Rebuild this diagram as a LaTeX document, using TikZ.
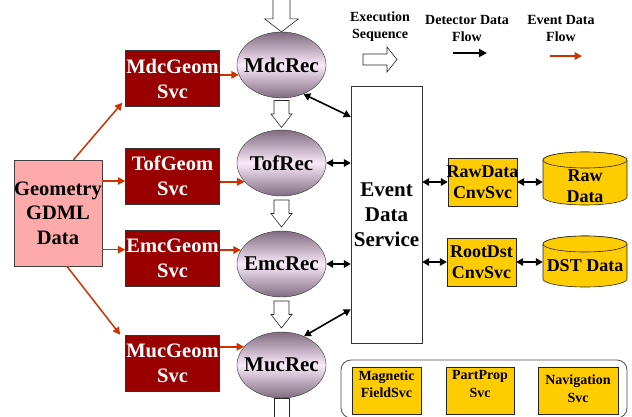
\documentclass[tikz,border=0pt]{standalone}
\usepackage{fontspec}
\setmainfont{Liberation Serif}
\usetikzlibrary{shapes.geometric,arrows.meta,calc}
\definecolor{geored}{RGB}{153,0,0}
\definecolor{pinkbox}{RGB}{255,170,170}
\definecolor{yel}{RGB}{255,204,0}
\definecolor{redarr}{RGB}{204,51,0}
\definecolor{elldark}{RGB}{128,108,128}
\definecolor{elllight}{RGB}{250,234,250}
\newcommand\mkzero[1]{\makebox[0pt]{#1}}
\begin{document}
\begin{tikzpicture}[x=1pt,y=-1pt,
  big/.style={font=\fontsize{21}{25}\selectfont\bfseries},
  mid/.style={font=\fontsize{18}{21.5}\selectfont\bfseries},
  small/.style={font=\fontsize{14}{17.5}\selectfont\bfseries},
  geobox/.style={font=\fontsize{20.5}{24.5}\selectfont\bfseries,draw=black!75,fill=pinkbox,align=center,minimum width=88,minimum height=106,inner sep=0},
  geom/.style={draw=black!80,fill=geored,text=white,font=\fontsize{20.5}{25}\selectfont\bfseries,align=center,minimum width=94,minimum height=56,inner sep=0},
  rec/.style={big,ellipse,draw=black!80,top color=elldark,bottom color=elldark,middle color=elllight,minimum width=89,minimum height=66,inner sep=0},
  edsbox/.style={big,draw=black!80,fill=white,align=center,minimum width=71,minimum height=257,inner sep=0},
  cnv/.style={mid,draw=black!85,fill=yel,align=center,minimum width=69,minimum height=48,inner sep=0},
  dat/.style={mid,align=center,minimum width=84,inner sep=0},
  ybox/.style={draw=black!85,fill=yel,minimum height=47,inner sep=0},
  ytxt/.style={small,align=center,inner sep=0},
  legtxt/.style={small,align=center,inner sep=0},
  cylst/.style={draw=black!85,fill=yel,line width=0.6},
  redarrow/.style={draw=redarr,line width=1.5,-{Triangle[length=7.5,width=7.5]}},
  dbl/.style={draw=black,line width=1.6,{Triangle[length=7,width=7.5]}-{Triangle[length=7,width=7.5]}},
  blkline/.style={draw=black!85,fill=white,line width=0.6,line join=miter},
  vblk/.pic={\draw[blkline] (-7.5,-13.5) -- (7.5,-13.5) -- (7.5,0) -- (10.5,0) -- (0,13.5) -- (-10.5,0) -- (-7.5,0) -- cycle;},
  topblk/.pic={\draw[blkline] (-8.5,-40) -- (8.5,-40) -- (8.5,-13) -- (17,-13) -- (0,0) -- (-17,-13) -- (-8.5,-13) -- cycle;}
]
\useasboundingbox (0,0) rectangle (632,416);
\clip (0,0) rectangle (632,416);

% legend
\node[legtxt] (lexec) at (380,26.5) {Execution\\Sequence};
\node[legtxt] (ldet) at (467,28.5) {Detector Data\\Flow};
\node[legtxt] (levt) at (561,28.5) {Event Data\\Flow};
\draw[blkline] (363,54) -- (387,54) -- (387,47) -- (397,59.5) -- (387,72) -- (387,65) -- (363,65) -- cycle;
\coordinate (ld1) at (453,53);
\coordinate (ld2) at (487,53);
\coordinate (le1) at (550,56);
\coordinate (le2) at (582,56);
\draw[draw=black,line width=1.8,-{Triangle[length=8,width=8]}] (ld1) -- (ld2);
\draw[redarrow,line width=1.8] (le1) -- (le2);

% geometry
\node[geobox] (geo) at (58,213) {Geometry\\GDML\\Data};
\node[geom] (mdcg) at (172.5,78.5) {MdcGeom\\Svc};
\node[geom] (tofg) at (172.5,176) {TofGeom\\Svc};
\node[geom] (emcg) at (172.5,258) {EmcGeom\\Svc};
\node[geom] (mucg) at (172.5,363) {MucGeom\\Svc};

% reconstruction
\node[rec] (mdcr) at (281.5,65) {\mkzero{MdcRec}};
\node[rec] (tofr) at (281.5,163) {\mkzero{TofRec}};
\node[rec] (emcr) at (281.5,264) {\mkzero{EmcRec}};
\node[rec] (mucr) at (281.5,365) {\mkzero{MucRec}};

\pic at (mdcr.north) {topblk};
\pic at ($(mdcr.south)!0.5!(tofr.north)$) {vblk};
\pic at ($(tofr.south)!0.5!(emcr.north)$) {vblk};
\pic at ($(emcr.south)!0.5!(mucr.north)$) {vblk};
\draw[blkline] ($(mucr.south)+(-7.5,0)$) rectangle ($(mucr.south)+(7.5,30)$);

% event data service
\node[edsbox] (eds) at (386.5,214.5) {Event\\Data\\Service};
\node[cnv] (rawc) at (482.5,182) {\mkzero{RawData}\\CnvSvc};
\node[cnv] (rootc) at (481.5,262) {RootDst\\CnvSvc};

% cylinders
\draw[cylst] (543,160) -- (543,197) arc[start angle=180,end angle=0,x radius=42,y radius=8] -- (627,160) arc[start angle=0,end angle=-180,x radius=42,y radius=8] -- cycle;
\draw[cylst] (585,160) ellipse[x radius=42,y radius=8];
\draw[cylst] (543,244) -- (543,279) arc[start angle=180,end angle=0,x radius=42,y radius=8] -- (627,244) arc[start angle=0,end angle=-180,x radius=42,y radius=8] -- cycle;
\draw[cylst] (585,244) ellipse[x radius=42,y radius=8];
\node[dat] (raw) at (585,186) {Raw\\Data};
\node[dat] (dst) at (585,266) {DST Data};

% common services
\draw[draw=black!70,line width=0.8,rounded corners=10] (341,360) rectangle (627,418);
\node[ybox,minimum width=69] (mag) at (386.5,390.5) {};
\node[ybox,minimum width=68] (pp) at (480,390.5) {};
\node[ybox,minimum width=80] (nav) at (578,390.5) {};
\node[ytxt] (magt) at (386.5,384) {Magnetic\\FieldSvc};
\node[ytxt] (ppt) at (480,384) {PartProp\\Svc};
\node[ytxt] (navt) at (578,388.5) {Navigation\\Svc};

% red arrows
\draw[redarrow] ($(geo.north)!0.35!(geo.north east)$) -- ($(mdcg.south west)+(-3,-4)$);
\draw[redarrow] (tofg.186 -| geo.east) -- (tofg.186);
\draw[redarrow] (emcg.170 -| geo.east) -- (emcg.170);
\draw[redarrow] ($(geo.south)!0.2!(geo.south east)$) -- ($(mucg.north west)+(-5,0)$);
\draw[redarrow] (mdcr.193 -| mdcg.east) -- (mdcr.193);
\draw[redarrow] (tofr.207 -| tofg.east) -- (tofr.207);
\draw[redarrow] (emcr.161 -| emcg.east) -- (emcr.161);
\draw[redarrow] (mucr.154 -| mucg.east) -- (mucr.154);

% black double arrows
\draw[dbl] (mdcr.-53) -- ($(eds.north west)+(0,31)$);
\draw[dbl] (tofr.east) -- (tofr.east -| eds.west);
\draw[dbl] (emcr.east) -- (emcr.east -| eds.west);
\draw[dbl] (mucr.52) -- ($(eds.south west)+(0,-34)$);
\draw[dbl] (rawc.west -| eds.east) -- (rawc.west);
\draw[dbl] (rootc.west -| eds.east) -- (rootc.west);
\draw[dbl] (rawc.east) -- (rawc.east -| raw.west);
\draw[dbl] (rootc.east) -- (rootc.east -| dst.west);
\end{tikzpicture}
\end{document}
